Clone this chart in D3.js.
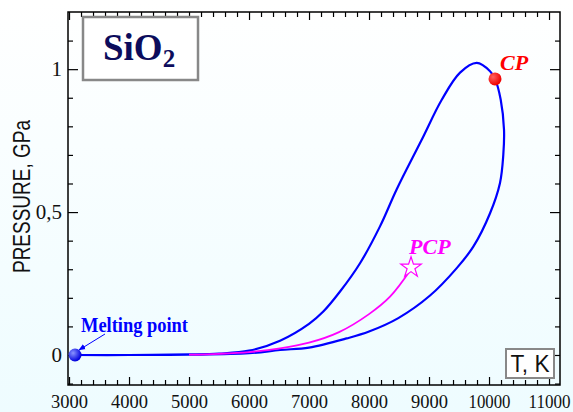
<!DOCTYPE html>
<html>
<head>
<meta charset="utf-8">
<script src="https://cdn.jsdelivr.net/npm/d3@7"></script>
<style>
  body { margin: 0; background: #f4feff; }
  svg { display: block; }
</style>
</head>
<body>
<div id="chart-area"></div>
<script>
const W = 573, H = 412
const PLOT = { LEFT: 68, RIGHT: 560, TOP: 12, BOTTOM: 385 }

// binodal loop: upper branch up to the top, over CP, back down the right/lower branch
const binodalT = [3100, 4000, 5000, 5500, 6000, 6517, 7000, 7238, 7517, 7850, 8183, 8462, 8878, 9212, 9517, 9795,
  10017, 10100, 10195, 10250, 10238, 10183, 10017, 9738, 9462, 9017, 8488, 8000, 7628, 7000, 6517, 6000, 5000, 4000, 3100]
const binodalP = [0, 0, 0.002, 0.005, 0.015, 0.05, 0.109, 0.152, 0.222, 0.321, 0.45, 0.58, 0.753, 0.893, 0.988, 1.022,
  0.993, 0.966, 0.893, 0.788, 0.7, 0.602, 0.496, 0.379, 0.304, 0.208, 0.129, 0.082, 0.058, 0.026, 0.0175, 0.006, 0.001, 0, 0]

// pseudo-critical branch
const pcpT = [5000, 5500, 6000, 6517, 7000, 7500, 8000, 8350, 8700]
const pcpP = [0.001, 0.004, 0.01, 0.023, 0.043, 0.08, 0.143, 0.204, 0.3]

const meltPoint = [3100, 0]
const critPoint = [10100, 0.966]
const pcpPoint = [8700, 0.306]

const xMajor = [3000, 4000, 5000, 6000, 7000, 8000, 9000, 10000, 11000]
const yMajor = [0, 0.5, 1]

const svg = d3.select("#chart-area").append("svg")
  .attr("width", W)
  .attr("height", H)

const defs = svg.append("defs")
const bg = defs.append("linearGradient").attr("id", "bg").attr("x1", 0).attr("y1", 0).attr("x2", 0).attr("y2", 1)
bg.append("stop").attr("offset", "0%").attr("stop-color", "#ffffff")
bg.append("stop").attr("offset", "100%").attr("stop-color", "#eefcff")

function ball(id, light, dark) {
  const g = defs.append("radialGradient").attr("id", id).attr("cx", "35%").attr("cy", "35%").attr("r", "65%")
  g.append("stop").attr("offset", "0%").attr("stop-color", light)
  g.append("stop").attr("offset", "100%").attr("stop-color", dark)
}
ball("blueBall", "#8a94ff", "#0000dd")
ball("redBall", "#ff6060", "#f00000")

defs.append("marker")
  .attr("id", "arrow")
  .attr("viewBox", "0 0 10 10")
  .attr("refX", 9).attr("refY", 5)
  .attr("markerWidth", 7).attr("markerHeight", 7)
  .attr("orient", "auto")
  .append("path").attr("d", "M0,1 L10,5 L0,9 z").attr("fill", "#0000ff")

svg.append("rect").attr("width", W).attr("height", H).attr("fill", "url(#bg)")

// scales
const x = d3.scaleLinear().domain([2983, 11183]).range([PLOT.LEFT, PLOT.RIGHT])
const y = d3.scaleLinear().domain([-0.105, 1.2]).range([PLOT.BOTTOM, PLOT.TOP])

const xMinor = d3.range(3000, 11001, 200).filter(v => v % 1000 !== 0)
const yMinor = d3.range(-0.1, 1.2, 0.1).map(v => +v.toFixed(1)).filter(v => !yMajor.includes(v))

// axes
const axisG = (tr) => svg.append("g").attr("transform", tr)

const bottomMajor = axisG(`translate(0,${PLOT.BOTTOM})`)
  .call(d3.axisBottom(x).tickValues(xMajor).tickSizeInner(-8).tickSizeOuter(0).tickPadding(10).tickFormat(d3.format("d")))
axisG(`translate(0,${PLOT.BOTTOM})`)
  .call(d3.axisBottom(x).tickValues(xMinor).tickSizeInner(-5).tickSizeOuter(0).tickFormat(""))
axisG(`translate(0,${PLOT.TOP})`)
  .call(d3.axisTop(x).tickValues(xMajor).tickSizeInner(-8).tickSizeOuter(0).tickFormat(""))
axisG(`translate(0,${PLOT.TOP})`)
  .call(d3.axisTop(x).tickValues(xMinor).tickSizeInner(-5).tickSizeOuter(0).tickFormat(""))

const leftMajor = axisG(`translate(${PLOT.LEFT},0)`)
  .call(d3.axisLeft(y).tickValues(yMajor).tickSizeInner(-10).tickSizeOuter(0).tickPadding(6)
    .tickFormat(d => String(d).replace(".", ",")))
axisG(`translate(${PLOT.LEFT},0)`)
  .call(d3.axisLeft(y).tickValues(yMinor).tickSizeInner(-5).tickSizeOuter(0).tickFormat(""))
axisG(`translate(${PLOT.RIGHT},0)`)
  .call(d3.axisRight(y).tickValues(yMajor).tickSizeInner(-10).tickSizeOuter(0).tickFormat(""))
axisG(`translate(${PLOT.RIGHT},0)`)
  .call(d3.axisRight(y).tickValues(yMinor).tickSizeInner(-5).tickSizeOuter(0).tickFormat(""))

svg.selectAll(".domain").remove()
svg.selectAll(".tick line").attr("stroke", "#000").attr("stroke-width", 1.2)

bottomMajor.selectAll("text")
  .attr("font-family", "Liberation Serif, serif")
  .attr("font-size", 19)
  .attr("fill", "#111")
  .attr("textLength", d => String(d).length === 5 ? 42 : 37)
  .attr("lengthAdjust", "spacingAndGlyphs")

leftMajor.selectAll("text")
  .attr("font-family", "Liberation Serif, serif")
  .attr("font-size", 21)
  .attr("fill", "#111")

// frame
svg.append("rect")
  .attr("x", PLOT.LEFT).attr("y", PLOT.TOP)
  .attr("width", PLOT.RIGHT - PLOT.LEFT).attr("height", PLOT.BOTTOM - PLOT.TOP)
  .attr("fill", "none").attr("stroke", "#000").attr("stroke-width", 1.5)

// y title
svg.append("text")
  .attr("transform", `translate(30,${(120 + 273) / 2}) rotate(-90)`)
  .attr("text-anchor", "middle")
  .attr("font-family", "Liberation Sans, Arial, sans-serif")
  .attr("font-size", 24)
  .attr("textLength", 153)
  .attr("lengthAdjust", "spacingAndGlyphs")
  .attr("fill", "#111")
  .text("PRESSURE, GPa")

// curves
const line = d3.line()
  .x(d => x(d[0]))
  .y(d => y(d[1]))
  .curve(d3.curveCatmullRom.alpha(0.5))

svg.append("path")
  .attr("d", line(binodalT.map((t, i) => [t, binodalP[i]])))
  .attr("fill", "none").attr("stroke", "#0000ff").attr("stroke-width", 2.2)

svg.append("path")
  .attr("d", line(pcpT.map((t, i) => [t, pcpP[i]])))
  .attr("fill", "none").attr("stroke", "#ff00ff").attr("stroke-width", 1.8)

// markers
svg.append("circle")
  .attr("cx", x(meltPoint[0])).attr("cy", y(meltPoint[1])).attr("r", 6.5)
  .attr("fill", "url(#blueBall)")

svg.append("circle")
  .attr("cx", x(critPoint[0])).attr("cy", y(critPoint[1])).attr("r", 6.5)
  .attr("fill", "url(#redBall)")

const star = d3.symbol().type(d3.symbolStar).size(130)
svg.append("path")
  .attr("d", star())
  .attr("transform", `translate(${x(pcpPoint[0])},${y(pcpPoint[1])})`)
  .attr("fill", "#ffffff").attr("stroke", "#ff00ff").attr("stroke-width", 1.2)

// labels
svg.append("text")
  .attr("x", x(critPoint[0]) + 5).attr("y", y(critPoint[1]) - 9)
  .attr("font-family", "Liberation Serif, serif")
  .attr("font-size", 22).attr("font-weight", "bold").attr("font-style", "italic")
  .attr("fill", "#ff0000")
  .text("CP")

svg.append("text")
  .attr("x", x(pcpPoint[0]) - 2).attr("y", y(pcpPoint[1]) - 14)
  .attr("font-family", "Liberation Serif, serif")
  .attr("font-size", 22).attr("font-weight", "bold").attr("font-style", "italic")
  .attr("fill", "#ff00ff")
  .text("PCP")

svg.append("text")
  .attr("x", 81).attr("y", 332)
  .attr("font-family", "Liberation Serif, serif")
  .attr("font-size", 20).attr("font-weight", "bold")
  .attr("textLength", 107).attr("lengthAdjust", "spacingAndGlyphs")
  .attr("fill", "#0000ff")
  .text("Melting point")

svg.append("line")
  .attr("x1", 105).attr("y1", 334)
  .attr("x2", x(meltPoint[0]) + 4).attr("y2", y(meltPoint[1]) - 5)
  .attr("stroke", "#0000ff").attr("stroke-width", 1)
  .attr("marker-end", "url(#arrow)")

// SiO2 box
svg.append("rect")
  .attr("x", 83).attr("y", 17).attr("width", 115).attr("height", 63)
  .attr("fill", "#ffffff").attr("stroke", "#888").attr("stroke-width", 2.5)
const sio2 = svg.append("text")
  .attr("x", 103).attr("y", 60)
  .attr("font-family", "Liberation Serif, serif")
  .attr("font-size", 37).attr("font-weight", "bold")
  .attr("fill", "#0c0c5c")
sio2.append("tspan").text("SiO")
sio2.append("tspan").attr("font-size", 25).attr("dy", 7).text("2")

// T, K box
svg.append("rect")
  .attr("x", 506).attr("y", 349).attr("width", 48).attr("height", 29)
  .attr("fill", "#ffffff").attr("stroke", "#888").attr("stroke-width", 2)
svg.append("text")
  .attr("x", 530).attr("y", 372)
  .attr("text-anchor", "middle")
  .attr("font-family", "Liberation Sans, Arial, sans-serif")
  .attr("font-size", 24)
  .attr("textLength", 39).attr("lengthAdjust", "spacingAndGlyphs")
  .attr("fill", "#111")
  .text("T, K")
</script>
</body>
</html>
